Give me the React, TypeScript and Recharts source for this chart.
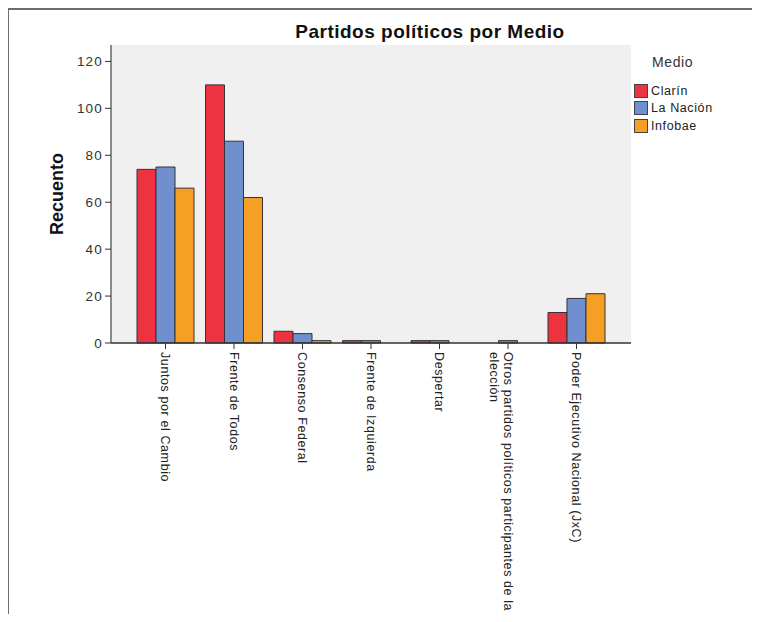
import React from 'react';
import { BarChart, Bar, XAxis, YAxis, CartesianGrid, Legend } from 'recharts';

const categories = [
  'Juntos por el Cambio',
  'Frente de Todos',
  'Consenso Federal',
  'Frente de Izquierda',
  'Despertar',
  'Otros partidos políticos participantes de la elección',
  'Poder Ejecutivo Nacional (JxC)',
];
const clarin = [74, 110, 5, 1, 1, 0, 13];
const laNacion = [75, 86, 4, 1, 1, 1, 19];
const infobae = [66, 62, 1, 0, 0, 0, 21];
const yTicks = [0, 20, 40, 60, 80, 100, 120];
const seriesNames = ['Clarín', 'La Nación', 'Infobae'];
const legendTitle = 'Medio';
const chartTitle = 'Partidos políticos por Medio';
const yTitle = 'Recuento';

const COLORS = ['#ee3340', '#6f8fcf', '#f59f25'];
const FONT = '"Liberation Sans", Arial, sans-serif';

const data = categories.map((c, i) => ({
  name: c,
  clarin: clarin[i],
  laNacion: laNacion[i],
  infobae: infobae[i],
}));

function wrap(text: string, max: number): string[] {
  const words = text.split(' ');
  const lines: string[] = [];
  let cur = '';
  for (const w of words) {
    const next = cur ? cur + ' ' + w : w;
    if (next.length > max && cur) {
      lines.push(cur);
      cur = w;
    } else cur = next;
  }
  if (cur) lines.push(cur);
  return lines;
}

const XTick = (props: any) => {
  const { x, y, payload } = props;
  const lines = wrap(String(payload.value), 44);
  return (
    <g transform={`translate(${x},${y})`}>
      <text
        transform="rotate(90)"
        x={1}
        y={0}
        textAnchor="start"
        fill="#222"
        fontFamily={FONT}
        fontSize={12.5}
        letterSpacing={0.6}
      >
        {lines.map((l, i) => (
          <tspan key={i} x={1} dy={i === 0 ? '0.36em' : '1.1em'}>
            {l}
          </tspan>
        ))}
      </text>
    </g>
  );
};

const LegendContent = (props: any) => {
  const items = [...(props.payload || [])].sort(
    (a: any, b: any) => seriesNames.indexOf(a.value) - seriesNames.indexOf(b.value)
  );
  return (
    <div style={{ fontFamily: FONT, color: '#222' }}>
      <div style={{ fontSize: 14, lineHeight: '16px', marginLeft: 18, letterSpacing: 0.6, color: '#333', height: 28 }}>
        {legendTitle}
      </div>
      {items.map((p: any, i: number) => (
        <div key={i} style={{ display: 'flex', alignItems: 'center', height: 17.5 }}>
          <div
            style={{
              width: 12,
              height: 12,
              background: p.color,
              border: '1px solid #444',
              marginRight: 3,
            }}
          />
          <span style={{ fontSize: 12.5, letterSpacing: 0.6, lineHeight: '14px' }}>{p.value}</span>
        </div>
      ))}
    </div>
  );
};

export default function App() {
  return (
    <div style={{ position: 'relative', width: 744, height: 606 }}>
      <div
        style={{
          position: 'absolute',
          left: -1,
          top: 0,
          width: 760,
          height: 620,
          borderTop: '2px solid #6b6b6b',
          borderLeft: '2px solid #6b6b6b',
          boxSizing: 'border-box',
        }}
      />
      <div style={{ position: 'absolute', left: -8, top: -8, width: 760, height: 622 }}>
        <div
          style={{
            position: 'absolute',
            left: 230,
            top: 22,
            width: 400,
            textAlign: 'center',
            fontFamily: FONT,
            fontWeight: 'bold',
            fontSize: 19,
            lineHeight: '19px',
            letterSpacing: 0.5,
            color: '#111',
          }}
        >
          {chartTitle}
        </div>
        <BarChart
          width={760}
          height={622}
          data={data}
          margin={{ top: 45, right: 129, bottom: 0, left: 0 }}
          barGap={0}
          barCategoryGap={5.75}
        >
          <CartesianGrid horizontal={false} vertical={false} fill="#f0f0f0" stroke="none" />
          <XAxis
            dataKey="name"
            height={279}
            interval={0}
            padding={{ left: 20.25, right: 20.25 }}
            axisLine={{ stroke: '#333', strokeWidth: 1.5 }}
            tickLine={{ stroke: '#333' }}
            tickSize={6}
            tickMargin={2}
            tick={<XTick />}
          />
          <XAxis
            xAxisId="top"
            orientation="top"
            dataKey="name"
            height={0}
            tick={false}
            tickLine={false}
            axisLine={{ stroke: '#444', strokeWidth: 1.2 }}
          />
          <YAxis
            width={111}
            domain={[0, 127]}
            ticks={yTicks}
            interval={0}
            axisLine={{ stroke: '#444', strokeWidth: 1.2 }}
            tickLine={{ stroke: '#333' }}
            tickSize={6}
            tickMargin={2}
            tick={{ fill: '#333', fontFamily: FONT, fontSize: 13.5, letterSpacing: 1.2 }}
            label={(p: any) => {
              const vb = p.viewBox || {};
              const cy = (vb.y || 0) + (vb.height || 0) / 2;
              return (
                <text
                  x={57}
                  y={cy}
                  transform={`rotate(-90, 57, ${cy})`}
                  textAnchor="middle"
                  dominantBaseline="central"
                  fontFamily={FONT}
                  fontWeight="bold"
                  fontSize={18}
                  fill="#111"
                >
                  {yTitle}
                </text>
              );
            }}
          />
          <YAxis
            yAxisId="right"
            orientation="right"
            width={0}
            domain={[0, 127]}
            tick={false}
            tickLine={false}
            axisLine={{ stroke: '#444', strokeWidth: 1.2 }}
          />
          <Legend
            layout="horizontal"
            align="center"
            verticalAlign="middle"
            content={<LegendContent />}
            wrapperStyle={{ position: 'absolute', left: 634, top: 54, width: 110 }}
          />
          <Bar dataKey="clarin" name={seriesNames[0]} fill={COLORS[0]} stroke="#333" strokeWidth={1} isAnimationActive={false} />
          <Bar dataKey="laNacion" name={seriesNames[1]} fill={COLORS[1]} stroke="#333" strokeWidth={1} isAnimationActive={false} />
          <Bar dataKey="infobae" name={seriesNames[2]} fill={COLORS[2]} stroke="#333" strokeWidth={1} isAnimationActive={false} />
        </BarChart>
      </div>
    </div>
  );
}
